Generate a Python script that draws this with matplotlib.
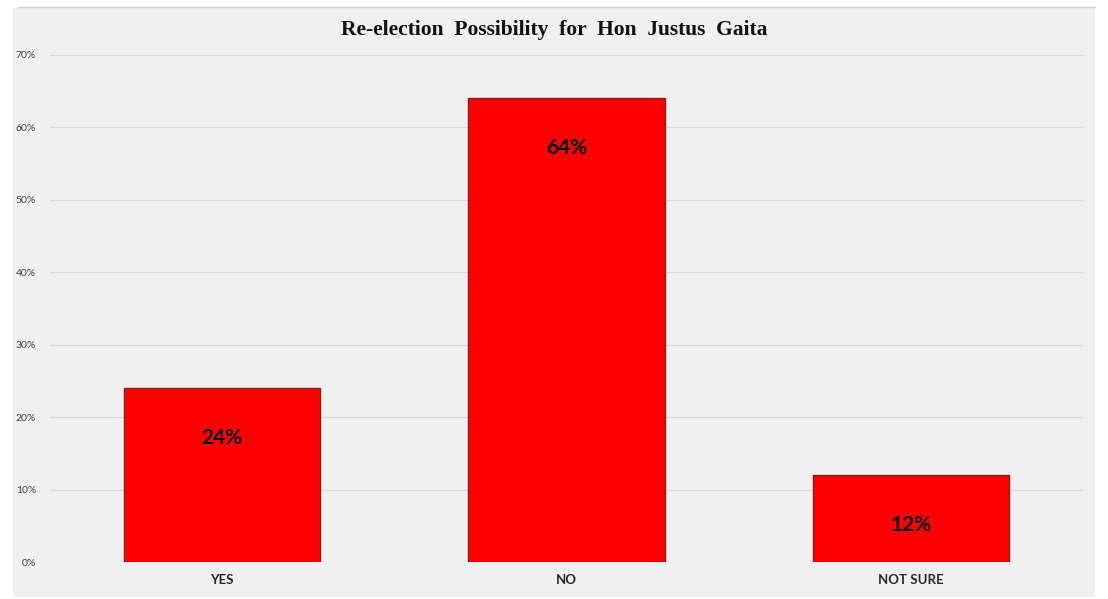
import matplotlib
matplotlib.use("Agg")
import matplotlib.pyplot as plt
from matplotlib.patches import Rectangle
from matplotlib.ticker import FuncFormatter

categories = ["YES", "NO", "NOT SURE"]
values = [24, 64, 12]
yticks = [0, 10, 20, 30, 40, 50, 60, 70]
title = "Re-election  Possibility  for  Hon  Justus  Gaita"

plt.rcParams["font.family"] = ["Lato", "DejaVu Sans"]

W, H = 1108, 599
fig = plt.figure(figsize=(W / 100, H / 100), dpi=100, facecolor="white")

# gray panel behind everything
bg = fig.add_axes([0, 0, 1, 1], zorder=-10)
bg.set_xlim(0, W)
bg.set_ylim(H, 0)
bg.axis("off")
bg.add_patch(Rectangle((13, 8), 1095 - 13, 597 - 8, facecolor="#f0f0f0",
                       edgecolor="none"))
bg.plot([18, 1095], [7, 7], color="#d0d0d0", lw=1)

ax = fig.add_axes([50 / W, 1 - 562 / H, (1083 - 50) / W, (562 - 55) / H])
ax.patch.set_alpha(0)
x = list(range(len(categories)))
bars = ax.bar(x, values, width=0.57, color="#ff0000", edgecolor="#8a1a1a",
              linewidth=1.0, zorder=3)
ax.set_xlim(-0.5, 2.5)
ax.set_ylim(0, 70)
ax.set_yticks(yticks)
ax.yaxis.set_major_formatter(FuncFormatter(lambda v, p: f"{int(v)}%"))
ax.grid(axis="y", color="#d9d9d9", lw=0.9, zorder=0)
for s in ax.spines.values():
    s.set_visible(False)
ax.tick_params(axis="y", length=0, pad=10, labelsize=7.5, labelcolor="#404040")
ax.set_xticks(x)
ax.set_xticklabels(categories, fontsize=9.5, fontweight="bold", color="#262626")
ax.tick_params(axis="x", length=0, pad=9)

for b, v in zip(bars, values):
    ax.annotate(f"{v}%", (b.get_x() + b.get_width() / 2, v),
                xytext=(0, -36), textcoords="offset points",
                ha="center", va="center", fontsize=15, fontweight="bold",
                color="black", zorder=5)

fig.text(0.5, 1 - 30 / H, title, ha="center", va="center",
         fontsize=15.5, fontweight="bold", family="Liberation Serif",
         color="#111111")

fig.savefig("out.png", dpi=100, facecolor="white")
